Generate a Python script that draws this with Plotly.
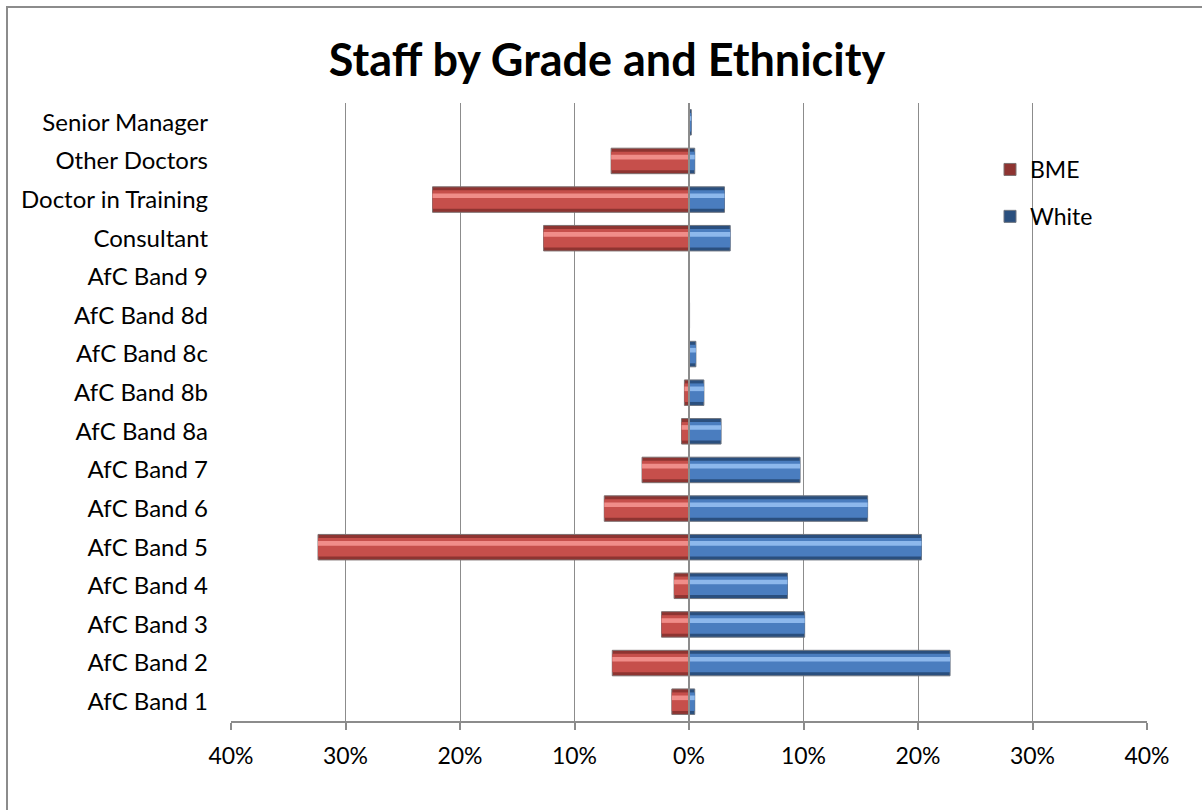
import plotly.graph_objects as go

categories = ["AfC Band 1", "AfC Band 2", "AfC Band 3", "AfC Band 4", "AfC Band 5",
              "AfC Band 6", "AfC Band 7", "AfC Band 8a", "AfC Band 8b", "AfC Band 8c",
              "AfC Band 8d", "AfC Band 9", "Consultant", "Doctor in Training",
              "Other Doctors", "Senior Manager"]
bme = [-1.5, -6.7, -2.4, -1.3, -32.4, -7.4, -4.1, -0.65, -0.4, 0.0,
       0.0, 0.0, -12.7, -22.4, -6.8, 0.0]
white = [0.5, 22.8, 10.1, 8.6, 20.3, 15.6, 9.7, 2.8, 1.3, 0.6,
         0.05, 0.0, 3.6, 3.1, 0.5, 0.2]
tick_vals = [-40, -30, -20, -10, 0, 10, 20, 30, 40]
tick_text = ["40%", "30%", "20%", "10%", "0%", "10%", "20%", "30%", "40%"]

FONT = "Lato, Calibri, Carlito, sans-serif"
W, H = 1202, 810
L, R, T, B = 231, W - 1147, 103, H - 721

fig = go.Figure()

def add_series(vals, name, dark, mid, light, edge, group):
    fig.add_trace(go.Bar(y=categories, x=vals, orientation="h", name=name,
                         width=0.66, marker=dict(color=dark, line=dict(color=edge, width=1)),
                         legendgroup=group, hoverinfo="x+y"))
    fig.add_trace(go.Bar(y=categories, x=vals, orientation="h", name=name,
                         width=0.48, marker=dict(color=mid, line=dict(width=0)),
                         legendgroup=group, showlegend=False, hoverinfo="skip"))
    fig.add_trace(go.Bar(y=categories, x=vals, orientation="h", name=name,
                         width=0.12, offset=0.04, marker=dict(color=light, line=dict(width=0)),
                         legendgroup=group, showlegend=False, hoverinfo="skip"))

add_series(bme, "BME", "#8E3431", "#C64F4B", "#F08D89", "#7E7070", "bme")
add_series(white, "White", "#2A4F7E", "#4A7DBF", "#8DB8EC", "#6E7580", "white")

fig.update_layout(
    width=W, height=H,
    margin=dict(l=L, r=R, t=T, b=B),
    barmode="overlay",
    plot_bgcolor="white", paper_bgcolor="white",
    font=dict(family=FONT, size=24, color="#000000"),
    title=dict(text="<b>Staff by Grade and Ethnicity</b>", font=dict(family=FONT, size=45, color="#000"),
               x=607 / W, xanchor="center", y=1 - 60 / H, yanchor="middle"),
    showlegend=True,
    legend=dict(x=(990 - L) / (W - L - R), y=(721 - 148) / (H - T - B), xanchor="left", yanchor="top",
                bgcolor="rgba(0,0,0,0)", font=dict(family=FONT, size=23),
                tracegroupgap=14, traceorder="grouped", itemwidth=30),
)
fig.update_xaxes(range=[-40, 40], tickvals=tick_vals, ticktext=tick_text,
                 showgrid=True, gridcolor="#8C8C8C", gridwidth=1,
                 zeroline=False,
                 showline=True, linecolor="#8C8C8C", linewidth=2,
                 ticks="outside", ticklen=7, tickcolor="#8C8C8C", tickwidth=2,
                 ticklabelstandoff=6,
                 tickfont=dict(family=FONT, size=23), fixedrange=True)
fig.update_yaxes(type="category", categoryorder="array", categoryarray=categories,
                 showgrid=False, showline=False, ticks="", ticklabelstandoff=22,
                 tickfont=dict(family=FONT, size=24), fixedrange=True)

# vertical category axis at 0, drawn above the bars
fig.add_shape(type="line", xref="x", yref="paper", x0=0, x1=0, y0=0, y1=1,
              line=dict(color="#8C8C8C", width=2), layer="above")

# outer chart-area border
pw, ph = W - L - R, H - T - B
fig.add_shape(type="rect", xref="paper", yref="paper",
              x0=(7 - L) / pw, x1=(W + 20 - L) / pw,
              y0=(721 - (H + 20)) / ph, y1=(721 - 7) / ph,
              line=dict(color="#8C8C8C", width=2), fillcolor="rgba(0,0,0,0)", layer="below")

fig.write_html("out.html")
